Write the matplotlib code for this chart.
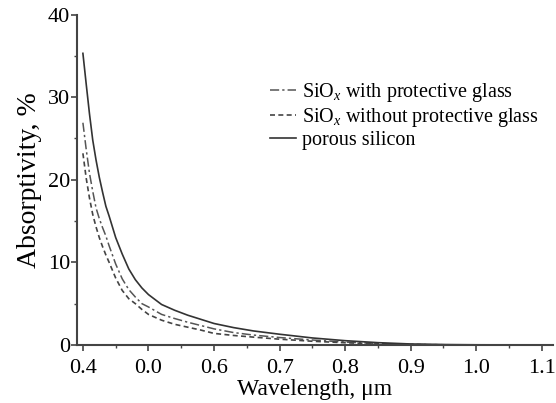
import numpy as np
import matplotlib.pyplot as plt
from matplotlib.ticker import MultipleLocator

plt.rcParams['font.family'] = ['Liberation Serif', 'DejaVu Serif']
plt.rcParams['mathtext.fontset'] = 'custom'
plt.rcParams['mathtext.rm'] = 'Liberation Serif'
plt.rcParams['mathtext.it'] = 'Liberation Serif:italic'

# wavelength samples (um)
wavelength = [0.400, 0.405, 0.410, 0.415, 0.420, 0.425, 0.430, 0.435, 0.440,
              0.450, 0.460, 0.470, 0.480, 0.490, 0.500, 0.520, 0.540, 0.560,
              0.580, 0.600, 0.630, 0.660, 0.700, 0.750, 0.800, 0.850, 0.900,
              0.950, 1.000, 1.050, 1.100]

# absorptivity, %
siox_glass = [26.9, 23.7, 20.8, 18.6, 16.6, 15.3, 14.2, 13.2, 12.0,
              9.8, 8.0, 6.7, 5.8, 5.0, 4.6, 3.7, 3.2, 2.75,
              2.35, 1.95, 1.5, 1.2, 0.9, 0.6, 0.35, 0.18, 0.07,
              0.03, 0.01, 0.0, 0.0]
siox_no_glass = [23.2, 20.2, 17.8, 15.8, 14.3, 13.0, 11.9, 10.9, 10.0,
                 8.1, 6.6, 5.6, 5.0, 4.3, 3.7, 3.0, 2.5, 2.15,
                 1.8, 1.4, 1.15, 0.95, 0.7, 0.45, 0.27, 0.12, 0.05,
                 0.02, 0.0, 0.0, 0.0]
porous_si = [35.3, 31.6, 28.0, 24.8, 22.4, 20.3, 18.5, 16.8, 15.6,
             13.0, 11.0, 9.2, 7.9, 6.9, 6.1, 4.9, 4.2, 3.6,
             3.1, 2.6, 2.1, 1.7, 1.3, 0.85, 0.52, 0.28, 0.12,
             0.05, 0.02, 0.01, 0.0]

xticks = [0.4, 0.5, 0.6, 0.7, 0.8, 0.9, 1.0, 1.1]
xtick_labels = ['0.4', '0.0', '0.6', '0.7', '0.8', '0.9', '1.0', '1.1']
yticks = [0, 10, 20, 30, 40]

fig = plt.figure(figsize=(5.56, 4.03), dpi=100)
ax = fig.add_axes([0.1385, 0.144, 0.856, 0.82])

ax.plot(wavelength, siox_glass, color='#555555', lw=1.1, linestyle=(0, (6, 2, 1.5, 2)),
        label=r'SiO$_{\mathit{x}}$ with protective glass')
ax.plot(wavelength, siox_no_glass, color='#444444', lw=1.2, linestyle=(0, (3, 2)),
        label=r'SiO$_{\mathit{x}}$ without protective glass')
ax.plot(wavelength, porous_si, color='#333333', lw=1.2, linestyle='-',
        label='porous silicon')

ax.set_xlim(0.391, 1.117)
ax.set_ylim(0, 40)
ax.set_xticks(xticks)
ax.set_xticklabels(xtick_labels)
ax.set_yticks(yticks)
ax.xaxis.set_minor_locator(MultipleLocator(0.05))
ax.yaxis.set_minor_locator(MultipleLocator(5))

for side in ['top', 'right']:
    ax.spines[side].set_visible(False)
for side in ['left', 'bottom']:
    ax.spines[side].set_color('#444444')
    ax.spines[side].set_linewidth(1.5)

ax.tick_params(which='major', direction='out', length=4, width=1.2, color='#444444',
               labelsize=16)
ax.tick_params(axis='x', which='major', pad=6)
ax.tick_params(axis='y', which='major', pad=1)
ax.tick_params(which='minor', direction='out', length=2.5, width=1.0, color='#444444')

ax.set_xlabel('Wavelength, μm', fontsize=17, labelpad=1)
ax.set_ylabel('Absorptivity, %', fontsize=20, labelpad=4)

ax.legend(loc='upper left', bbox_to_anchor=(0.486, 0.8), bbox_transform=fig.transFigure,
          frameon=False, fontsize=14.5, handlelength=1.3, handletextpad=0.3,
          labelspacing=0.1, borderaxespad=0, borderpad=0)

fig.savefig('out.png', dpi=100)
